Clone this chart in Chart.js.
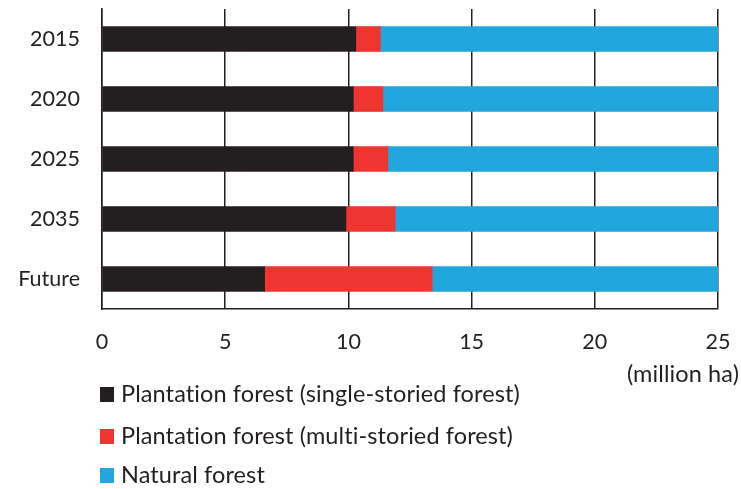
<!DOCTYPE html>
<html>
<head>
    <title>Forest Area Outlook</title>
    <script src="https://cdn.jsdelivr.net/npm/chart.js"></script>
    <style>
        body { margin: 0; background: #fff; }
        #wrap { width: 741px; height: 489px; position: relative; }
    </style>
</head>
<body>
    <div id="wrap">
        <canvas id="chart" width="741" height="489"></canvas>
    </div>

    <script>
        // Forest area by type (million ha)
        const years = ['2015', '2020', '2025', '2035', 'Future'];
        const singleStoried = [10.3, 10.2, 10.2, 9.9, 6.6];
        const multiStoried = [1.0, 1.2, 1.4, 2.0, 6.8];
        const naturalForest = [13.7, 13.6, 13.4, 13.1, 11.6];
        const xTicks = [0, 5, 10, 15, 20, 25];

        const seriesNames = [
            'Plantation forest (single-storied forest)',
            'Plantation forest (multi-storied forest)',
            'Natural forest'
        ];
        const colors = ['#231f20', '#ee3530', '#22a6de'];
        const unitLabel = '(million ha)';

        const fontFamily = 'Lato, "Open Sans", sans-serif';
        const textColor = '#231f20';

        // legend + unit text below the plot
        const bottomText = {
            id: 'bottomText',
            afterDraw(chart) {
                const ctx = chart.ctx;
                ctx.save();
                ctx.font = '23.5px ' + fontFamily;
                ctx.letterSpacing = '0.1px'; // keeps Lato from joining "ti"
                ctx.fillStyle = textColor;
                ctx.textBaseline = 'middle';

                ctx.textAlign = 'right';
                ctx.fillText(unitLabel, 739, 374);

                ctx.textAlign = 'left';
                const rows = [394, 436, 475];
                chart.data.datasets.forEach((ds, i) => {
                    ctx.fillStyle = ds.backgroundColor;
                    ctx.fillRect(100, rows[i] - 7, 14, 15);
                    ctx.fillStyle = textColor;
                    ctx.fillText(ds.label, 121, rows[i]);
                });
                ctx.restore();
            }
        };

        const ctx = document.getElementById('chart').getContext('2d');
        const myChart = new Chart(ctx, {
            type: 'bar',
            data: {
                labels: years,
                datasets: [
                    { label: seriesNames[0], data: singleStoried, backgroundColor: colors[0] },
                    { label: seriesNames[1], data: multiStoried, backgroundColor: colors[1] },
                    { label: seriesNames[2], data: naturalForest, backgroundColor: colors[2] }
                ]
            },
            options: {
                indexAxis: 'y',
                responsive: false,
                animation: false,
                layout: { padding: { top: 9, right: 23, left: 0, bottom: 0 } },
                datasets: {
                    bar: { barThickness: 25, borderWidth: 0 }
                },
                plugins: {
                    legend: { display: false },
                    tooltip: { enabled: false }
                },
                scales: {
                    x: {
                        stacked: true,
                        min: 0,
                        max: 25,
                        afterBuildTicks: s => { s.ticks = xTicks.map(v => ({ value: v })); },
                        afterFit: s => { s.height = 180; s.paddingLeft = 0; s.paddingRight = 0; },
                        grid: { color: '#231f20', lineWidth: 1.5, drawTicks: false },
                        border: { color: '#231f20', width: 1.5 },
                        ticks: {
                            padding: 20,
                            color: textColor,
                            font: { family: fontFamily, size: 21.5 }
                        }
                    },
                    y: {
                        stacked: true,
                        // fixed axis width; drop the label overhang padding so the plot starts at the top margin
                        afterFit: s => { s.width = 102; s.paddingTop = 0; s.paddingBottom = 0; },
                        grid: { display: false, drawTicks: false },
                        border: { color: '#231f20', width: 1.5 },
                        ticks: {
                            padding: 22,
                            color: textColor,
                            font: { family: fontFamily, size: 21.5 }
                        }
                    }
                }
            },
            plugins: [bottomText]
        });
    </script>
</body>
</html>
